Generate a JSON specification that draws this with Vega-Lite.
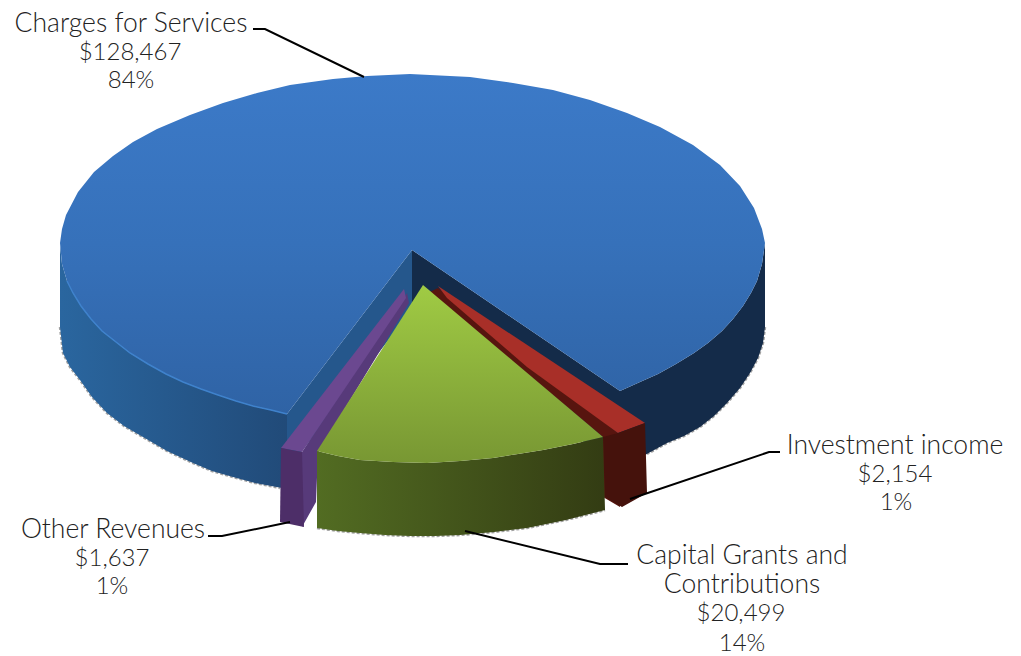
{
  "$schema": "https://vega.github.io/schema/vega-lite/v6.json",
  "width": 1021,
  "height": 656,
  "padding": 0,
  "autosize": "none",
  "background": "white",
  "config": {"view": {"stroke": null}},
  "datasets": {
    "outline": [
      {"part":"blueSide","seq":1,"x":287,"y":414},{"part":"blueSide","seq":2,"x":271,"y":410},{"part":"blueSide","seq":3,"x":253,"y":406},{"part":"blueSide","seq":4,"x":236,"y":401},{"part":"blueSide","seq":5,"x":218,"y":395},{"part":"blueSide","seq":6,"x":201,"y":389},{"part":"blueSide","seq":7,"x":183,"y":382},{"part":"blueSide","seq":8,"x":166,"y":374},{"part":"blueSide","seq":9,"x":148,"y":364},{"part":"blueSide","seq":10,"x":130,"y":353},{"part":"blueSide","seq":11,"x":116,"y":342},{"part":"blueSide","seq":12,"x":102,"y":331},{"part":"blueSide","seq":13,"x":91,"y":319},{"part":"blueSide","seq":14,"x":81,"y":306},{"part":"blueSide","seq":15,"x":73,"y":293},{"part":"blueSide","seq":16,"x":67,"y":281},{"part":"blueSide","seq":17,"x":62,"y":264},{"part":"blueSide","seq":18,"x":60,"y":245},{"part":"blueSide","seq":19,"x":60,"y":327},{"part":"blueSide","seq":20,"x":63,"y":353},{"part":"blueSide","seq":21,"x":70,"y":367},{"part":"blueSide","seq":22,"x":80,"y":380},{"part":"blueSide","seq":23,"x":92,"y":397},{"part":"blueSide","seq":24,"x":107,"y":413},{"part":"blueSide","seq":25,"x":124,"y":426},{"part":"blueSide","seq":26,"x":143,"y":437},{"part":"blueSide","seq":27,"x":167,"y":451},{"part":"blueSide","seq":28,"x":193,"y":463},{"part":"blueSide","seq":29,"x":212,"y":471},{"part":"blueSide","seq":30,"x":233,"y":477},{"part":"blueSide","seq":31,"x":255,"y":483},{"part":"blueSide","seq":32,"x":282,"y":488},{"part":"blueSide","seq":33,"x":290,"y":470},

      {"part":"darkSide","seq":1,"x":412,"y":250},{"part":"darkSide","seq":2,"x":620,"y":391},{"part":"darkSide","seq":3,"x":640,"y":382},{"part":"darkSide","seq":4,"x":658,"y":374},{"part":"darkSide","seq":5,"x":676,"y":364},{"part":"darkSide","seq":6,"x":694,"y":353},{"part":"darkSide","seq":7,"x":708,"y":343},{"part":"darkSide","seq":8,"x":722,"y":331},{"part":"darkSide","seq":9,"x":733,"y":319},{"part":"darkSide","seq":10,"x":743,"y":306},{"part":"darkSide","seq":11,"x":751,"y":293},{"part":"darkSide","seq":12,"x":757,"y":281},{"part":"darkSide","seq":13,"x":762,"y":264},{"part":"darkSide","seq":14,"x":765,"y":243},{"part":"darkSide","seq":15,"x":765,"y":327},{"part":"darkSide","seq":16,"x":763,"y":343},{"part":"darkSide","seq":17,"x":758,"y":358},{"part":"darkSide","seq":18,"x":750,"y":373},{"part":"darkSide","seq":19,"x":740,"y":388},{"part":"darkSide","seq":20,"x":727,"y":403},{"part":"darkSide","seq":21,"x":714,"y":416},{"part":"darkSide","seq":22,"x":700,"y":427},{"part":"darkSide","seq":23,"x":684,"y":436},{"part":"darkSide","seq":24,"x":667,"y":443},{"part":"darkSide","seq":25,"x":645,"y":455},{"part":"darkSide","seq":26,"x":620,"y":470},{"part":"darkSide","seq":27,"x":412,"y":310},

      {"part":"innerLeft","seq":1,"x":412,"y":250},{"part":"innerLeft","seq":2,"x":287,"y":414},{"part":"innerLeft","seq":3,"x":287,"y":470},{"part":"innerLeft","seq":4,"x":412,"y":310},

      {"part":"blueTop","seq":1,"x":412,"y":250},{"part":"blueTop","seq":2,"x":287,"y":414},{"part":"blueTop","seq":3,"x":271,"y":410},{"part":"blueTop","seq":4,"x":253,"y":406},{"part":"blueTop","seq":5,"x":236,"y":401},{"part":"blueTop","seq":6,"x":218,"y":395},{"part":"blueTop","seq":7,"x":201,"y":389},{"part":"blueTop","seq":8,"x":183,"y":382},{"part":"blueTop","seq":9,"x":166,"y":374},{"part":"blueTop","seq":10,"x":148,"y":364},{"part":"blueTop","seq":11,"x":130,"y":353},{"part":"blueTop","seq":12,"x":116,"y":342},{"part":"blueTop","seq":13,"x":102,"y":331},{"part":"blueTop","seq":14,"x":91,"y":319},{"part":"blueTop","seq":15,"x":81,"y":306},{"part":"blueTop","seq":16,"x":73,"y":293},{"part":"blueTop","seq":17,"x":67,"y":281},{"part":"blueTop","seq":18,"x":62,"y":264},{"part":"blueTop","seq":19,"x":60,"y":243},{"part":"blueTop","seq":20,"x":62,"y":229},{"part":"blueTop","seq":21,"x":66,"y":215},{"part":"blueTop","seq":22,"x":78,"y":192},{"part":"blueTop","seq":23,"x":94,"y":172},{"part":"blueTop","seq":24,"x":113,"y":156},{"part":"blueTop","seq":25,"x":133,"y":142},{"part":"blueTop","seq":26,"x":157,"y":129},{"part":"blueTop","seq":27,"x":190,"y":115},{"part":"blueTop","seq":28,"x":223,"y":103},{"part":"blueTop","seq":29,"x":257,"y":93},{"part":"blueTop","seq":30,"x":290,"y":85},{"part":"blueTop","seq":31,"x":333,"y":79},{"part":"blueTop","seq":32,"x":367,"y":76},{"part":"blueTop","seq":33,"x":410,"y":74},{"part":"blueTop","seq":34,"x":470,"y":77},{"part":"blueTop","seq":35,"x":513,"y":83},{"part":"blueTop","seq":36,"x":553,"y":90},{"part":"blueTop","seq":37,"x":590,"y":100},{"part":"blueTop","seq":38,"x":627,"y":113},{"part":"blueTop","seq":39,"x":660,"y":127},{"part":"blueTop","seq":40,"x":693,"y":145},{"part":"blueTop","seq":41,"x":720,"y":165},{"part":"blueTop","seq":42,"x":740,"y":186},{"part":"blueTop","seq":43,"x":754,"y":208},{"part":"blueTop","seq":44,"x":762,"y":229},{"part":"blueTop","seq":45,"x":765,"y":243},{"part":"blueTop","seq":46,"x":762,"y":264},{"part":"blueTop","seq":47,"x":757,"y":281},{"part":"blueTop","seq":48,"x":751,"y":293},{"part":"blueTop","seq":49,"x":743,"y":306},{"part":"blueTop","seq":50,"x":733,"y":319},{"part":"blueTop","seq":51,"x":722,"y":331},{"part":"blueTop","seq":52,"x":708,"y":343},{"part":"blueTop","seq":53,"x":694,"y":353},{"part":"blueTop","seq":54,"x":676,"y":364},{"part":"blueTop","seq":55,"x":658,"y":374},{"part":"blueTop","seq":56,"x":640,"y":382},{"part":"blueTop","seq":57,"x":620,"y":391},

      {"part":"rimLight","seq":1,"x":287,"y":414},{"part":"rimLight","seq":2,"x":271,"y":410},{"part":"rimLight","seq":3,"x":253,"y":406},{"part":"rimLight","seq":4,"x":236,"y":401},{"part":"rimLight","seq":5,"x":218,"y":395},{"part":"rimLight","seq":6,"x":201,"y":389},{"part":"rimLight","seq":7,"x":183,"y":382},{"part":"rimLight","seq":8,"x":166,"y":374},{"part":"rimLight","seq":9,"x":148,"y":364},{"part":"rimLight","seq":10,"x":130,"y":353},{"part":"rimLight","seq":11,"x":116,"y":342},{"part":"rimLight","seq":12,"x":102,"y":331},{"part":"rimLight","seq":13,"x":91,"y":319},{"part":"rimLight","seq":14,"x":81,"y":306},{"part":"rimLight","seq":15,"x":73,"y":293},{"part":"rimLight","seq":16,"x":67,"y":281},

      {"part":"edgeLeft","seq":1,"x":60,"y":327},{"part":"edgeLeft","seq":2,"x":63,"y":353},{"part":"edgeLeft","seq":3,"x":70,"y":367},{"part":"edgeLeft","seq":4,"x":80,"y":380},{"part":"edgeLeft","seq":5,"x":92,"y":397},{"part":"edgeLeft","seq":6,"x":107,"y":413},{"part":"edgeLeft","seq":7,"x":124,"y":426},{"part":"edgeLeft","seq":8,"x":143,"y":437},{"part":"edgeLeft","seq":9,"x":167,"y":451},{"part":"edgeLeft","seq":10,"x":193,"y":463},{"part":"edgeLeft","seq":11,"x":212,"y":471},{"part":"edgeLeft","seq":12,"x":233,"y":477},{"part":"edgeLeft","seq":13,"x":255,"y":483},{"part":"edgeLeft","seq":14,"x":280,"y":488},
      {"part":"edgeRight","seq":1,"x":765,"y":327},{"part":"edgeRight","seq":2,"x":763,"y":343},{"part":"edgeRight","seq":3,"x":758,"y":358},{"part":"edgeRight","seq":4,"x":750,"y":373},{"part":"edgeRight","seq":5,"x":740,"y":388},{"part":"edgeRight","seq":6,"x":727,"y":403},{"part":"edgeRight","seq":7,"x":714,"y":416},{"part":"edgeRight","seq":8,"x":700,"y":427},{"part":"edgeRight","seq":9,"x":684,"y":436},{"part":"edgeRight","seq":10,"x":667,"y":443},{"part":"edgeRight","seq":11,"x":647,"y":454},
      {"part":"edgeGreen","seq":1,"x":317,"y":528},{"part":"edgeGreen","seq":2,"x":338,"y":531},{"part":"edgeGreen","seq":3,"x":360,"y":533},{"part":"edgeGreen","seq":4,"x":385,"y":535},{"part":"edgeGreen","seq":5,"x":410,"y":536},{"part":"edgeGreen","seq":6,"x":435,"y":536},{"part":"edgeGreen","seq":7,"x":460,"y":535},{"part":"edgeGreen","seq":8,"x":494,"y":532},{"part":"edgeGreen","seq":9,"x":527,"y":528},{"part":"edgeGreen","seq":10,"x":566,"y":520},{"part":"edgeGreen","seq":11,"x":605,"y":510},

      {"part":"purpleInner","seq":1,"x":407,"y":293},{"part":"purpleInner","seq":2,"x":302,"y":452},{"part":"purpleInner","seq":3,"x":302,"y":527},{"part":"purpleInner","seq":4,"x":316,"y":502},{"part":"purpleInner","seq":5,"x":318,"y":453},{"part":"purpleInner","seq":6,"x":409,"y":303},
      {"part":"purpleTop","seq":1,"x":404,"y":289},{"part":"purpleTop","seq":2,"x":281,"y":448},{"part":"purpleTop","seq":3,"x":302,"y":452},{"part":"purpleTop","seq":4,"x":406,"y":298},
      {"part":"purpleFront","seq":1,"x":281,"y":448},{"part":"purpleFront","seq":2,"x":302,"y":452},{"part":"purpleFront","seq":3,"x":304,"y":527},{"part":"purpleFront","seq":4,"x":280,"y":522},

      {"part":"redInner","seq":1,"x":438,"y":288},{"part":"redInner","seq":2,"x":618,"y":433},{"part":"redInner","seq":3,"x":620,"y":507},{"part":"redInner","seq":4,"x":603,"y":497},{"part":"redInner","seq":5,"x":603,"y":437},{"part":"redInner","seq":6,"x":430,"y":292},
      {"part":"redTop","seq":1,"x":438,"y":286},{"part":"redTop","seq":2,"x":645,"y":423},{"part":"redTop","seq":3,"x":618,"y":433},{"part":"redTop","seq":4,"x":527,"y":367},{"part":"redTop","seq":5,"x":447,"y":298},
      {"part":"redFront","seq":1,"x":618,"y":433},{"part":"redFront","seq":2,"x":645,"y":423},{"part":"redFront","seq":3,"x":647,"y":493},{"part":"redFront","seq":4,"x":622,"y":507},{"part":"redFront","seq":5,"x":605,"y":497},{"part":"redFront","seq":6,"x":603,"y":437},

      {"part":"greenFront","seq":1,"x":317,"y":451},{"part":"greenFront","seq":2,"x":338,"y":456},{"part":"greenFront","seq":3,"x":360,"y":460},{"part":"greenFront","seq":4,"x":393,"y":462},{"part":"greenFront","seq":5,"x":427,"y":463},{"part":"greenFront","seq":6,"x":460,"y":461},{"part":"greenFront","seq":7,"x":493,"y":458},{"part":"greenFront","seq":8,"x":518,"y":454},{"part":"greenFront","seq":9,"x":543,"y":450},{"part":"greenFront","seq":10,"x":573,"y":444},{"part":"greenFront","seq":11,"x":603,"y":437},{"part":"greenFront","seq":12,"x":605,"y":510},{"part":"greenFront","seq":13,"x":566,"y":520},{"part":"greenFront","seq":14,"x":527,"y":528},{"part":"greenFront","seq":15,"x":494,"y":532},{"part":"greenFront","seq":16,"x":460,"y":535},{"part":"greenFront","seq":17,"x":435,"y":536},{"part":"greenFront","seq":18,"x":410,"y":536},{"part":"greenFront","seq":19,"x":385,"y":535},{"part":"greenFront","seq":20,"x":360,"y":533},{"part":"greenFront","seq":21,"x":338,"y":531},{"part":"greenFront","seq":22,"x":317,"y":528},
      {"part":"greenTop","seq":1,"x":423,"y":285},{"part":"greenTop","seq":2,"x":317,"y":451},{"part":"greenTop","seq":3,"x":338,"y":456},{"part":"greenTop","seq":4,"x":360,"y":460},{"part":"greenTop","seq":5,"x":393,"y":462},{"part":"greenTop","seq":6,"x":427,"y":463},{"part":"greenTop","seq":7,"x":460,"y":461},{"part":"greenTop","seq":8,"x":493,"y":458},{"part":"greenTop","seq":9,"x":518,"y":454},{"part":"greenTop","seq":10,"x":543,"y":450},{"part":"greenTop","seq":11,"x":573,"y":444},{"part":"greenTop","seq":12,"x":603,"y":437},

      {"part":"leaderCharges","seq":1,"x":253,"y":29},{"part":"leaderCharges","seq":2,"x":265,"y":29},{"part":"leaderCharges","seq":3,"x":364,"y":77},
      {"part":"leaderInvestment","seq":1,"x":780,"y":452},{"part":"leaderInvestment","seq":2,"x":769,"y":452},{"part":"leaderInvestment","seq":3,"x":630,"y":499},
      {"part":"leaderCapital","seq":1,"x":465,"y":531},{"part":"leaderCapital","seq":2,"x":600,"y":564},{"part":"leaderCapital","seq":3,"x":628,"y":564},
      {"part":"leaderOther","seq":1,"x":208,"y":536},{"part":"leaderOther","seq":2,"x":222,"y":536},{"part":"leaderOther","seq":3,"x":290,"y":522}
    ],
    "labels": [
      {"line":"Charges for Services","x":131,"y":24},{"line":"$128,467","x":130,"y":53},{"line":"84%","x":131,"y":81},
      {"line":"Investment income","x":895,"y":446},{"line":"$2,154","x":895,"y":475},{"line":"1%","x":896,"y":503},
      {"line":"Capital Grants and","x":742,"y":556},{"line":"Contributions","x":742,"y":585},{"line":"$20,499","x":741,"y":614},{"line":"14%","x":742,"y":644},
      {"line":"Other Revenues","x":113,"y":530},{"line":"$1,637","x":112,"y":559},{"line":"1%","x":112,"y":587}
    ]
  },
  "encoding": {
    "x": {"field":"x","type":"quantitative","axis":null,"scale":{"domain":[0,1021],"range":[0,1021]}},
    "y": {"field":"y","type":"quantitative","axis":null,"scale":{"domain":[0,656],"range":[0,656]}},
    "order": {"field":"seq","type":"quantitative"}
  },
  "data": {"name":"outline"},
  "layer": [
    {"transform":[{"filter":"datum.part==='edgeLeft'||datum.part==='edgeRight'||datum.part==='edgeGreen'"}],
     "mark":{"type":"line","stroke":"#777777","strokeWidth":2.5,"strokeDash":[3,2],"opacity":0.7},
     "encoding":{"detail":{"field":"part"}}},
    {"transform":[{"filter":"datum.part==='blueSide'"}],
     "mark":{"type":"line","filled":true,"strokeWidth":0,"fill":{"gradient":"linear","x1":0,"y1":0,"x2":1,"y2":0,"stops":[{"offset":0,"color":"#2a669f"},{"offset":1,"color":"#214a78"}]}}},
    {"transform":[{"filter":"datum.part==='darkSide'"}],
     "mark":{"type":"line","filled":true,"strokeWidth":0,"fill":"#142b49"}},
    {"transform":[{"filter":"datum.part==='innerLeft'"}],
     "mark":{"type":"line","filled":true,"strokeWidth":0,"fill":"#25578c"}},
    {"transform":[{"filter":"datum.part==='blueTop'"}],
     "mark":{"type":"line","filled":true,"strokeWidth":0,"fill":{"gradient":"linear","x1":0,"y1":0,"x2":0,"y2":1,"stops":[{"offset":0,"color":"#3c7ac8"},{"offset":0.5,"color":"#3671ba"},{"offset":1,"color":"#2f63a5"}]}}},
    {"transform":[{"filter":"datum.part==='rimLight'"}],
     "mark":{"type":"line","stroke":"#3f82cc","strokeWidth":1.5}},
    {"transform":[{"filter":"datum.part==='purpleInner'"}],
     "mark":{"type":"line","filled":true,"strokeWidth":0,"fill":"#573a7a"}},
    {"transform":[{"filter":"datum.part==='purpleTop'"}],
     "mark":{"type":"line","filled":true,"strokeWidth":0,"fill":"#6b4890"}},
    {"transform":[{"filter":"datum.part==='purpleFront'"}],
     "mark":{"type":"line","filled":true,"strokeWidth":0,"fill":"#4d2e68"}},
    {"transform":[{"filter":"datum.part==='redInner'"}],
     "mark":{"type":"line","filled":true,"strokeWidth":0,"fill":"#57150f"}},
    {"transform":[{"filter":"datum.part==='redTop'"}],
     "mark":{"type":"line","filled":true,"strokeWidth":0,"fill":"#a82f28"}},
    {"transform":[{"filter":"datum.part==='redFront'"}],
     "mark":{"type":"line","filled":true,"strokeWidth":0,"fill":"#45120c"}},
    {"transform":[{"filter":"datum.part==='greenFront'"}],
     "mark":{"type":"line","filled":true,"strokeWidth":0,"fill":{"gradient":"linear","x1":0,"y1":0,"x2":1,"y2":0,"stops":[{"offset":0,"color":"#526c22"},{"offset":1,"color":"#333c13"}]}}},
    {"transform":[{"filter":"datum.part==='greenTop'"}],
     "mark":{"type":"line","filled":true,"strokeWidth":0,"fill":{"gradient":"linear","x1":0,"y1":0,"x2":0,"y2":1,"stops":[{"offset":0,"color":"#a0cb44"},{"offset":1,"color":"#789733"}]}}},
    {"transform":[{"filter":"indexof(datum.part,'leader')===0"}],
     "mark":{"type":"line","stroke":"#000000","strokeWidth":2},
     "encoding":{"detail":{"field":"part"}}},
    {"data":{"name":"labels"},
     "transform":[{"filter":"test(/^[$0-9]/, datum.line)"}],
     "mark":{"type":"text","font":"Lato","fontSize":24,"fontWeight":300,"color":"#222222","align":"center","baseline":"middle"},
     "encoding":{"text":{"field":"line"},"order":{"value":null}}},
    {"data":{"name":"labels"},
     "transform":[{"filter":"!test(/^[$0-9]/, datum.line)"}],
     "mark":{"type":"text","font":"Lato","fontSize":26.5,"fontWeight":300,"color":"#222222","align":"center","baseline":"middle"},
     "encoding":{"text":{"field":"line"},"order":{"value":null}}}
  ]
}
